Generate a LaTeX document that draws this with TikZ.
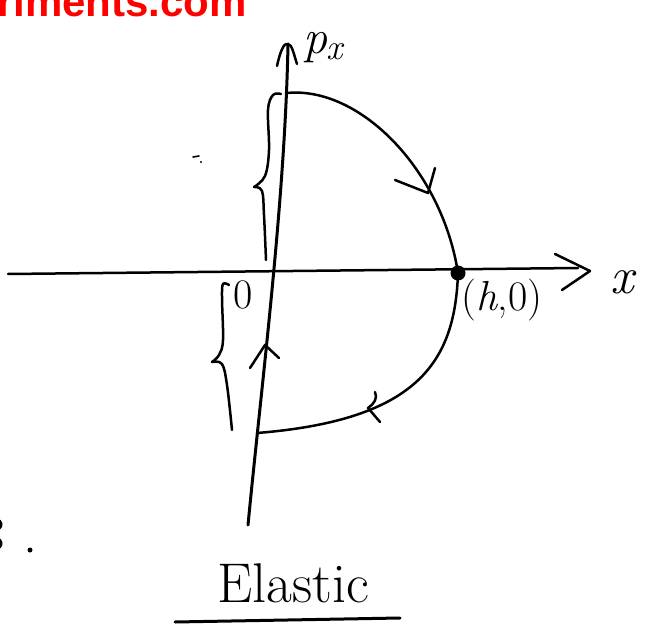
\documentclass[tikz,border=0pt]{standalone}
\usepackage{fontspec}
\newfontfamily\wmfont{Liberation Sans}
\begin{document}
\begin{tikzpicture}[x=1pt,y=-1pt,
  pen/.style={line width=3pt,line cap=round,line join=round},
  thinpen/.style={line width=2.5pt,line cap=round,line join=round},
  lbl/.style={inner sep=0pt}]
\path[use as bounding box,clip] (0,0) rectangle (669,636);
\fill[white] (0,0) rectangle (669,636);
% watermark
\node[lbl,anchor=base west,text=red,font=\wmfont\bfseries\fontsize{42}{42}\selectfont] (wm) at (-3,17) {riments.com};
% coordinates
\coordinate (xl) at (8,274);
\coordinate (xr) at (578,268);
\coordinate (yb) at (248,525);
\coordinate (yt) at (288,44);
\coordinate (A) at (287,93);
\coordinate (B) at (257,433);
% horizontal axis
\draw[thinpen] (xl) -- (xr);
\draw[thinpen] (555,254) coordinate (xa1) -- (590,271) coordinate (xtip) -- (562,290) coordinate (xa2);
% vertical axis
\draw[pen] (yb) .. controls (262,380) and (285,200) .. (yt);
\draw[thinpen] (277,66) coordinate (ya1) .. controls (280,52) and (284,42) .. (yt) .. controls (292,44) and (294,55) .. (297,64) coordinate (ya2);
% orbit
\draw[thinpen] (A) .. controls (360,86) and (442,170) .. (458,273) coordinate (H);
\draw[thinpen] (H) .. controls (455,360) and (420,420) .. (B);
% arrowheads on orbit
\draw[thinpen] (395,180) coordinate (u1) -- (428,193) coordinate (utip) -- (435,168) coordinate (u2);
\draw[thinpen] (375,392) coordinate (l1) .. controls (378,398) and (374,404) .. (368,408) coordinate (ltip) -- (380,422) coordinate (l2);
% arrowhead on vertical axis
\draw[thinpen] (250,368) coordinate (v1) -- (265,345) coordinate (vtip) -- (279,358) coordinate (v2);
% equilibrium point
\fill (H) circle (7.5);
% labels
\node[lbl,font=\itshape\fontsize{52}{52}\selectfont] (lx) at (622,282) {x};
\node[lbl,anchor=west,font=\itshape\fontsize{48}{48}\selectfont] (lpx) at (303,48) {p\kern-1pt\raisebox{-6pt}{\fontsize{36}{36}\selectfont x}};
\node[lbl,font=\fontsize{42}{42}\selectfont] (lh) at (502,300) {(\textit{h},0)};
\node[lbl,font=\fontsize{42}{42}\selectfont] (lO) at (243,295) {0};
% braces
\draw[thinpen] plot[smooth,tension=0.6] coordinates {(281,94) (273,95) (268,110) (269,150) (265,176) (254,187)};
\draw[thinpen] plot[smooth,tension=0.6] coordinates {(254,187) (262,191) (264,215) (266,260)};
\draw[thinpen] plot[smooth,tension=0.6] coordinates {(229,285) (223,284) (222,298) (223,340) (219,355) (212,362)};
\draw[thinpen] plot[smooth,tension=0.6] coordinates {(212,362) (222,364) (227,385) (232,430)};
% stray marks
\draw[line width=1.6pt,line cap=round] (193,157) -- (199,156);
\fill (201,162) circle (1.2);
\fill (30,550) circle (2.5);
\draw[line width=2.2pt] (-3,519) .. controls (2,521) and (3,526) .. (-1,529);
\draw[line width=2.2pt] (-3,538) .. controls (2,540) and (3,545) .. (-1,548);
% title
\node[lbl,font=\fontsize{56}{56}\selectfont] (title) at (293,583) {Elastic};
\draw[pen] (175,622) -- (400,618);
\end{tikzpicture}
\end{document}
